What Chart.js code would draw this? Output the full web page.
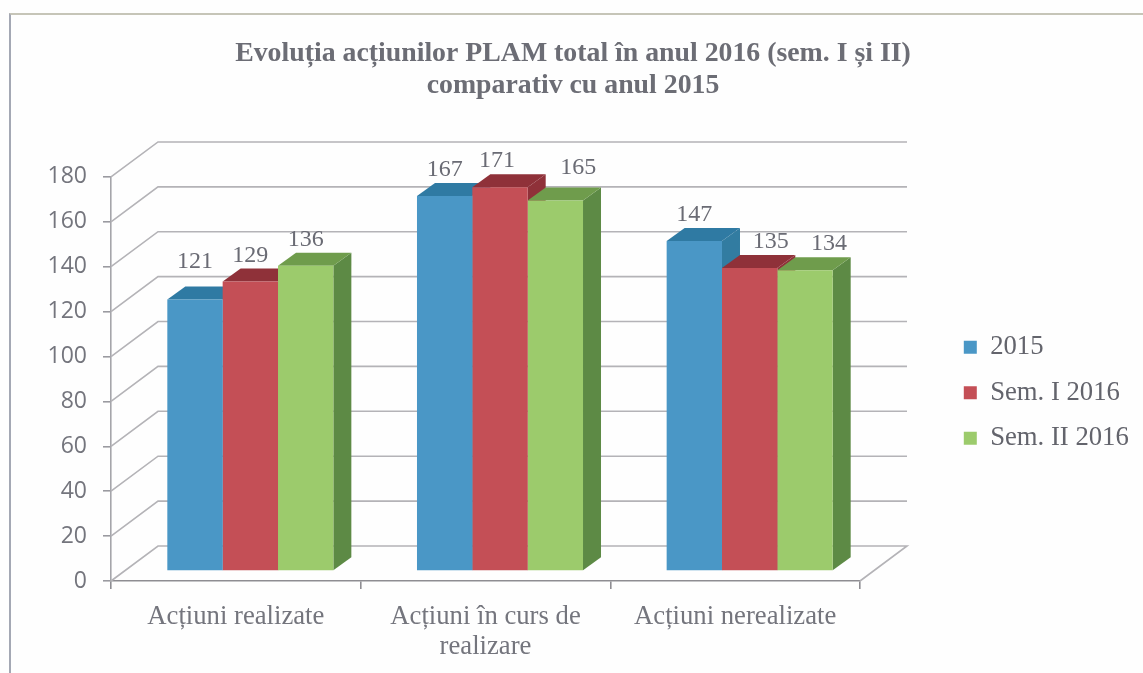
<!DOCTYPE html>
<html>
<head>
<meta charset="utf-8">
<script src="https://cdn.jsdelivr.net/npm/chart.js@4"></script>
<style>
  html, body { margin: 0; padding: 0; background: #fefefe; overflow: hidden; }
  #wrap { position: relative; width: 1143px; height: 673px; }
  #frame { position: absolute; left: 9px; top: 13px; right: 0; bottom: 0;
           border-left: 2px solid #a4a8b4; border-top: 2px solid #c6c5b8; }
  canvas { position: absolute; left: 0; top: 0; filter: blur(0.5px); }
</style>
</head>
<body>
<div id="wrap">
  <div id="frame"></div>
  <canvas id="chartCanvas" width="1143" height="673"></canvas>
</div>
<script>
const categories = ['Acțiuni realizate', ['Acțiuni în curs de', 'realizare'], 'Acțiuni nerealizate'];
const seriesNames = ['2015', 'Sem. I 2016', 'Sem. II 2016'];
const values2015 = [121, 167, 147];
const valuesSem1 = [129, 171, 135];
const valuesSem2 = [136, 165, 134];
const yTicks = [0, 20, 40, 60, 80, 100, 120, 140, 160, 180];

// front, top and side colours of each series
const frontColors = ['#4a97c6', '#c44f56', '#9ccb6c'];
const topColors = ['#2f7aa3', '#8f3139', '#6f9c4c'];
const sideColors = ['#327ca1', '#8f3139', '#5d8a45'];

// the fake 3d look
const wallDepth = { x: 47, y: -35 };
const barDepth = { x: 18, y: -13 };
const barShift = { x: 14.5, y: -10 };

// hand placed value labels, one row per category
const labelNudgeX = [[0, 0, 0], [0, -3, 23], [0, 21, 24]];
const labelNudgeY = [[-12, 0, 0], [0, 0, -7], [0, 0, 0]];

const inkColor = '#74757d';
const gridColor = '#b4b3b7';

const wallsPlugin = {
    id: 'walls',
    beforeDatasetsDraw(chart) {
        const ctx = chart.ctx;
        const y = chart.scales.y;
        const area = chart.chartArea;
        ctx.save();
        ctx.strokeStyle = gridColor;
        ctx.lineWidth = 1.6;
        yTicks.forEach((tick) => {
            const py = y.getPixelForValue(tick);
            ctx.beginPath();
            ctx.moveTo(area.left, py);
            ctx.lineTo(area.left + wallDepth.x, py + wallDepth.y);
            ctx.lineTo(area.right + wallDepth.x, py + wallDepth.y);
            if (tick === 0) {
                ctx.lineTo(area.right, py);
            }
            ctx.stroke();
        });
        ctx.restore();
    }
};

const bars3dPlugin = {
    id: 'bars3d',
    beforeDatasetsDraw(chart) {
        const ctx = chart.ctx;
        ctx.save();
        ctx.translate(barShift.x, barShift.y);
        chart.data.datasets.forEach((ds, i) => {
            chart.getDatasetMeta(i).data.forEach((bar) => {
                const left = bar.x - bar.width / 2;
                const right = bar.x + bar.width / 2;
                ctx.fillStyle = sideColors[i];
                ctx.beginPath();
                ctx.moveTo(right, bar.y);
                ctx.lineTo(right + barDepth.x, bar.y + barDepth.y);
                ctx.lineTo(right + barDepth.x, bar.base + barDepth.y);
                ctx.lineTo(right, bar.base);
                ctx.closePath();
                ctx.fill();
                ctx.fillStyle = topColors[i];
                ctx.beginPath();
                ctx.moveTo(left, bar.y);
                ctx.lineTo(left + barDepth.x, bar.y + barDepth.y);
                ctx.lineTo(right + barDepth.x, bar.y + barDepth.y);
                ctx.lineTo(right, bar.y);
                ctx.closePath();
                ctx.fill();
            });
        });
    },
    afterDatasetsDraw(chart) {
        const ctx = chart.ctx;
        ctx.fillStyle = '#6a6b74';
        ctx.font = '24px "Liberation Serif"';
        ctx.textAlign = 'center';
        ctx.textBaseline = 'middle';
        chart.data.datasets.forEach((ds, i) => {
            chart.getDatasetMeta(i).data.forEach((bar, c) => {
                ctx.fillText(ds.data[c], bar.x + labelNudgeX[c][i], bar.y - 26 + labelNudgeY[c][i]);
            });
        });
        ctx.restore();
    }
};

// title and legend sit over the whole page, not over the plot
const placementPlugin = {
    id: 'placement',
    afterLayout(chart) {
        const legend = chart.legend;
        const w = legend.width;
        const h = legend.height;
        legend.left = 945;
        legend.right = 945 + w;
        legend.top = 315;
        legend.bottom = 315 + h;
        legend.adjustHitBoxes();
        chart.titleBlock.left = 0;
        chart.titleBlock.right = 1146;
    }
};

const ctx = document.getElementById('chartCanvas').getContext('2d');

new Chart(ctx, {
    type: 'bar',
    data: {
        labels: categories,
        datasets: [
            { label: seriesNames[0], data: values2015, backgroundColor: frontColors[0] },
            { label: seriesNames[1], data: valuesSem1, backgroundColor: frontColors[1] },
            { label: seriesNames[2], data: valuesSem2, backgroundColor: frontColors[2] }
        ]
    },
    plugins: [wallsPlugin, bars3dPlugin, placementPlugin],
    options: {
        responsive: false,
        animation: false,
        layout: { padding: { left: 0, top: 0, right: 283, bottom: 0 } },
        datasets: { bar: { barPercentage: 1, categoryPercentage: 0.665 } },
        scales: {
            x: {
                afterFit: (scale) => { scale.height = 92; },
                grid: { drawOnChartArea: false, tickLength: 8, color: '#8e8d92', lineWidth: 1.6 },
                border: { color: '#8e8d92', width: 1.6 },
                ticks: {
                    color: inkColor,
                    font: { family: '"Liberation Serif"', size: 26.7, lineHeight: 1.12 },
                    padding: 13,
                    maxRotation: 0,
                    autoSkip: false
                }
            },
            y: {
                min: 0,
                max: 180,
                afterFit: (scale) => { scale.width = 111; },
                grid: { drawOnChartArea: false, tickLength: 8, color: '#9a9aa0', lineWidth: 1.6 },
                border: { color: '#a5a5aa', width: 1.6 },
                afterBuildTicks: (scale) => { scale.ticks = yTicks.map((v) => ({ value: v })); },
                ticks: {
                    color: inkColor,
                    font: { family: '"Open Sans"', size: 23 },
                    padding: 16
                }
            }
        },
        plugins: {
            title: {
                display: true,
                text: ['Evoluția acțiunilor PLAM total în anul 2016 (sem. I și II)', 'comparativ cu anul 2015'],
                color: '#6c6d75',
                font: { family: '"Liberation Serif"', size: 27.8, weight: 'bold', lineHeight: 1.15 },
                padding: { top: 38, bottom: 75 }
            },
            legend: {
                position: 'chartArea',
                align: 'start',
                labels: {
                    color: '#63646c',
                    font: { family: '"Liberation Serif"', size: 26.7 },
                    boxWidth: 13,
                    boxHeight: 13,
                    padding: 18.8
                }
            },
            tooltip: { enabled: false }
        }
    }
});
</script>
</body>
</html>
